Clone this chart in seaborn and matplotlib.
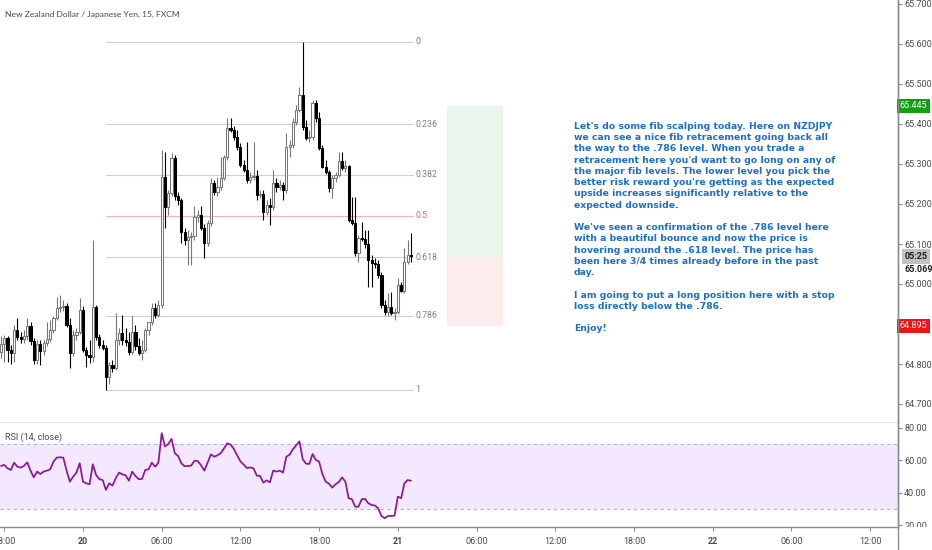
import numpy as np
import pandas as pd
import matplotlib
matplotlib.use("Agg")
import matplotlib.pyplot as plt
from matplotlib.lines import Line2D
from matplotlib.transforms import Bbox, TransformedBbox
import seaborn as sns

# NZDJPY 15 min candles (FXCM), first bar 19th 17:45, last bar 21st 01:00
start_time = "2019-03-19 17:45"

opens = [64.830, 64.850, 64.865, 64.835, 64.828, 64.885, 64.868, 64.863, 64.870, 64.895,
         64.858, 64.810, 64.850, 64.833, 64.853, 64.863, 64.885, 64.915, 64.940, 64.943,
         64.945, 64.898, 64.828, 64.873, 64.880, 64.935, 64.835, 64.823, 64.818, 64.943,
         64.868, 64.848, 64.840, 64.768, 64.798, 64.790, 64.860, 64.878, 64.860, 64.855,
         64.830, 64.880, 64.845, 64.828, 64.835, 64.885, 64.905, 64.940, 64.923, 64.948,
         65.268, 65.193, 65.228, 65.315, 65.220, 65.210, 65.130, 65.110, 65.118, 65.120,
         65.168, 65.173, 65.140, 65.103, 65.153, 65.253, 65.230, 65.243, 65.265, 65.318,
         65.390, 65.385, 65.368, 65.343, 65.298, 65.285, 65.260, 65.268, 65.270, 65.223,
         65.225, 65.180, 65.198, 65.193, 65.253, 65.243, 65.248, 65.235, 65.343, 65.348,
         65.405, 65.435, 65.473, 65.393, 65.365, 65.368, 65.453, 65.415, 65.340, 65.293,
         65.280, 65.240, 65.265, 65.273, 65.308, 65.290, 65.295, 65.160, 65.153, 65.078,
         65.115, 65.113, 65.100, 65.060, 65.053, 65.050, 65.023, 64.948, 64.930, 64.943,
         64.928, 64.930, 64.998, 64.983, 65.055, 65.073]
highs = [64.870, 64.873, 64.870, 64.848, 64.898, 64.915, 64.880, 64.885, 64.915, 64.905,
         64.865, 64.860, 64.860, 64.860, 64.905, 64.910, 64.920, 64.968, 64.973, 64.960,
         64.953, 64.915, 64.885, 64.890, 64.965, 64.945, 64.843, 64.860, 65.110, 64.948,
         64.875, 64.860, 64.848, 64.805, 64.810, 64.928, 64.890, 64.923, 64.890, 64.880,
         64.920, 64.898, 64.865, 64.860, 64.890, 64.905, 64.953, 64.953, 64.960, 65.335,
         65.330, 65.235, 65.328, 65.323, 65.230, 65.215, 65.140, 65.135, 65.130, 65.195,
         65.185, 65.195, 65.150, 65.160, 65.265, 65.260, 65.268, 65.318, 65.323, 65.415,
         65.415, 65.395, 65.385, 65.353, 65.310, 65.355, 65.280, 65.355, 65.285, 65.235,
         65.235, 65.210, 65.215, 65.285, 65.265, 65.260, 65.255, 65.378, 65.360, 65.415,
         65.448, 65.493, 65.605, 65.410, 65.385, 65.460, 65.460, 65.430, 65.348, 65.310,
         65.285, 65.273, 65.280, 65.330, 65.330, 65.310, 65.298, 65.218, 65.218, 65.123,
         65.155, 65.135, 65.135, 65.073, 65.065, 65.060, 65.030, 64.960, 64.978, 64.980,
         64.940, 65.015, 65.005, 65.090, 65.110, 65.128]
lows = [64.815, 64.805, 64.805, 64.800, 64.805, 64.860, 64.853, 64.853, 64.860, 64.848,
        64.800, 64.800, 64.798, 64.823, 64.845, 64.855, 64.878, 64.910, 64.930, 64.933,
        64.893, 64.790, 64.820, 64.860, 64.875, 64.830, 64.793, 64.803, 64.805, 64.860,
        64.840, 64.835, 64.735, 64.750, 64.780, 64.785, 64.848, 64.848, 64.845, 64.823,
        64.825, 64.835, 64.823, 64.810, 64.830, 64.873, 64.898, 64.915, 64.918, 64.940,
        65.140, 65.173, 65.220, 65.210, 65.198, 65.103, 65.098, 65.048, 65.048, 65.110,
        65.155, 65.135, 65.065, 65.095, 65.145, 65.223, 65.220, 65.235, 65.260, 65.310,
        65.380, 65.360, 65.335, 65.293, 65.280, 65.253, 65.253, 65.260, 65.210, 65.215,
        65.160, 65.173, 65.148, 65.185, 65.230, 65.235, 65.210, 65.228, 65.318, 65.340,
        65.398, 65.430, 65.385, 65.360, 65.355, 65.360, 65.405, 65.335, 65.290, 65.275,
        65.230, 65.215, 65.255, 65.268, 65.285, 65.280, 65.155, 65.148, 65.070, 65.055,
        65.108, 65.090, 64.993, 64.993, 65.040, 65.015, 64.940, 64.923, 64.920, 64.923,
        64.910, 64.925, 64.980, 64.978, 65.050, 65.055]
closes = [64.850, 64.865, 64.835, 64.828, 64.885, 64.868, 64.863, 64.870, 64.895, 64.858,
          64.810, 64.850, 64.833, 64.853, 64.863, 64.885, 64.915, 64.940, 64.943, 64.945,
          64.898, 64.828, 64.873, 64.880, 64.935, 64.835, 64.823, 64.818, 64.943, 64.868,
          64.848, 64.840, 64.768, 64.798, 64.790, 64.860, 64.878, 64.860, 64.855, 64.830,
          64.880, 64.845, 64.828, 64.835, 64.885, 64.905, 64.940, 64.923, 64.948, 65.268,
          65.193, 65.228, 65.315, 65.220, 65.210, 65.130, 65.110, 65.118, 65.120, 65.168,
          65.173, 65.140, 65.103, 65.153, 65.253, 65.230, 65.243, 65.265, 65.318, 65.390,
          65.385, 65.368, 65.343, 65.298, 65.285, 65.260, 65.268, 65.270, 65.223, 65.225,
          65.180, 65.198, 65.193, 65.253, 65.243, 65.248, 65.235, 65.343, 65.348, 65.405,
          65.435, 65.473, 65.393, 65.365, 65.368, 65.453, 65.415, 65.340, 65.293, 65.280,
          65.240, 65.265, 65.273, 65.308, 65.290, 65.295, 65.160, 65.153, 65.078, 65.115,
          65.113, 65.100, 65.060, 65.053, 65.050, 65.023, 64.948, 64.930, 64.943, 64.928,
          64.930, 64.998, 64.983, 65.055, 65.073, 65.069]

# RSI(14, close) as shown in the lower pane
rsi = [56.5, 57.1, 55.0, 54.0, 58.5, 56.0, 55.4, 56.5, 58.7, 53.6,
       49.5, 53.0, 51.5, 53.0, 53.6, 54.4, 59.1, 61.6, 61.8, 61.6,
       53.6, 46.8, 49.9, 52.4, 58.1, 46.8, 45.8, 45.2, 57.5, 50.9,
       48.3, 47.8, 41.7, 45.8, 44.4, 48.9, 52.4, 51.3, 50.7, 47.4,
       53.0, 50.3, 48.3, 48.5, 54.0, 54.4, 58.5, 56.0, 58.5, 76.6,
       68.4, 70.0, 73.1, 64.3, 62.6, 58.1, 56.3, 56.5, 56.7, 59.7,
       59.5, 56.9, 53.6, 58.5, 63.6, 62.2, 63.0, 64.3, 67.3, 70.4,
       69.6, 66.9, 63.0, 59.3, 57.3, 55.2, 55.6, 55.0, 50.5, 50.3,
       46.2, 47.6, 46.4, 53.6, 53.0, 53.6, 52.4, 62.2, 63.4, 66.7,
       69.2, 71.6, 60.6, 57.9, 57.7, 63.8, 60.2, 59.1, 51.5, 46.8,
       45.6, 43.1, 45.2, 46.6, 49.5, 46.8, 36.6, 36.0, 31.4, 31.4,
       36.0, 36.2, 33.5, 32.5, 32.1, 30.4, 25.7, 24.3, 25.7, 25.7,
       25.9, 37.6, 36.6, 45.8, 47.8, 47.4]

# fib retracement drawing
fib_ratios = [0, 0.236, 0.382, 0.5, 0.618, 0.786, 1]
fib_end_time = "2019-03-21 01:10"

# long position drawing
pos_start_time = "2019-03-21 03:45"
pos_end_time = "2019-03-21 08:00"
pos_entry = 65.068
pos_target = 65.445
pos_stop = 64.895
countdown = "05:25"

# 64.900 is hidden behind the stop label on the price scale
price_ticks = [64.7, 64.8, 65.0, 65.1, 65.2, 65.3, 65.4, 65.5, 65.6, 65.7]
rsi_ticks = [20, 40, 60, 80]
time_ticks = pd.date_range("2019-03-19 18:00", "2019-03-22 12:00", freq="6h")

note = ("Let's do some fib scalping today. Here on NZDJPY\n"
        "we can see a nice fib retracement going back all\n"
        "the way to the .786 level. When you trade a\n"
        "retracement here you'd want to go long on any of\n"
        "the major fib levels. The lower level you pick the\n"
        "better risk reward you're getting as the expected\n"
        "upside increases significantly relative to the\n"
        "expected downside.\n"
        "\n"
        "We've seen a confirmation of the .786 level here\n"
        "with a beautiful bounce and now the price is\n"
        "hovering around the .618 level. The price has\n"
        "been here 3/4 times already before in the past\n"
        "day.\n"
        "\n"
        "I am going to put a long position here with a stop\n"
        "loss directly below the .786.\n"
        "\n"
        "Enjoy!")

sns.set_theme(style="white")
plt.rcParams["font.family"] = ["Roboto", "DejaVu Sans"]

AXIS_C = "#8c8c8c"
TEXT_C = "#4a4a4a"

W, H = 932, 550
fig = plt.figure(figsize=(W / 100, H / 100), dpi=100)


def fx(x):
    return x / W


def fy(y):
    return 1 - y / H


t0 = pd.Timestamp(start_time)


def to_bar(t):
    return (pd.Timestamp(t) - t0) / pd.Timedelta("15min")


ax = fig.add_axes([0, fy(423), fx(898), fy(0) - fy(423)])
ax_rsi = fig.add_axes([0, fy(527), fx(898), fy(423) - fy(527)], sharex=ax)

o = np.array(opens)
h = np.array(highs)
l = np.array(lows)
c = np.array(closes)
bars = np.arange(len(c))
up = c >= o
edge = np.where(up, "#777777", "#000000")
face = np.where(up, "#ffffff", "#000000")

# candles
ax.vlines(bars, l, h, colors=edge, linewidth=0.8, zorder=2)
body = np.maximum(np.abs(c - o), 0.0015)
ax.bar(bars, body, bottom=np.minimum(o, c), width=0.66, color=face,
       edgecolor=edge, linewidth=0.75, zorder=3)

# fib retracement
fib_hi = h.max()
fib_lo = l.min()
fib_x0 = bars[l.argmin()]
fib_x1 = to_bar(fib_end_time)
for r in fib_ratios:
    lvl = fib_hi - r * (fib_hi - fib_lo)
    col = "#f5b3b3" if r == 0.5 else "#cfcfcf"
    tcol = "#e8625c" if r == 0.5 else "#808080"
    ax.plot([fib_x0, fib_x1], [lvl, lvl], color=col, linewidth=0.8, zorder=1)
    ax.text(fib_x1 + 0.6, lvl, f"{r:g}", color=tcol, fontsize=6.3,
            ha="left", va="center")

# long position box
px0 = to_bar(pos_start_time)
px1 = to_bar(pos_end_time)
ax.fill_between([px0, px1], pos_entry, pos_target, color="#eaf6eb", linewidth=0, zorder=0)
ax.fill_between([px0, px1], pos_stop, pos_entry, color="#fdecec", linewidth=0, zorder=0)

ax.set_xlim(-0.3, 273.5)
ax.set_ylim(64.6525, 65.71)

# price scale on the right
ax.yaxis.tick_right()
ax.set_yticks(price_ticks)
ax.set_yticklabels([f"{p:.3f}" for p in price_ticks])
for a in (ax, ax_rsi):
    a.tick_params(axis="y", right=True, left=False, length=3, width=0.8,
                  color=AXIS_C, pad=1.5, labelsize=6.5, labelcolor=TEXT_C)
    a.spines["top"].set_visible(False)
    a.spines["left"].set_visible(False)
    a.spines["right"].set_color(AXIS_C)
    a.spines["bottom"].set_color(AXIS_C)
    a.spines["right"].set_linewidth(1)
    a.spines["bottom"].set_linewidth(1)
ax.tick_params(axis="x", bottom=False, labelbottom=False)

ytr = ax.get_yaxis_transform()
ax.annotate(f"{pos_target:.3f}", xy=(1, pos_target), xycoords=ytr, xytext=(1.2, 0),
            textcoords="offset points", ha="left", va="center", color="white",
            fontsize=6.5, annotation_clip=False,
            bbox=dict(boxstyle="square,pad=0.3", fc="#12a012", ec="none"))
ax.annotate(f"{pos_stop:.3f}", xy=(1, pos_stop), xycoords=ytr, xytext=(1.2, 0),
            textcoords="offset points", ha="left", va="center", color="white",
            fontsize=6.5, annotation_clip=False,
            bbox=dict(boxstyle="square,pad=0.3", fc="#f01414", ec="none"))
ax.annotate(countdown, xy=(1, c[-1]), xycoords=ytr, xytext=(4.5, 0),
            textcoords="offset points", ha="left", va="center", color="#1e1e1e",
            fontsize=6.5, fontweight="bold", annotation_clip=False,
            bbox=dict(boxstyle="square,pad=0.3", fc="#c2c2c2", ec="none"))
ax.annotate(f"{c[-1]:.3f}", xy=(1, c[-1]), xycoords=ytr, xytext=(4.5, -9.5),
            textcoords="offset points", ha="left", va="center", color="#1e1e1e",
            fontsize=6.5, fontweight="bold", annotation_clip=False)

# RSI pane
ax_rsi.axhspan(30, 70, color="#f3e8fd", linewidth=0, zorder=0)
for lvl in (30, 70):
    ax_rsi.axhline(lvl, color="#b9b2c2", linewidth=0.8, dashes=(3, 3), zorder=1)
sns.lineplot(x=bars, y=rsi, ax=ax_rsi, color="#8e1599", linewidth=1.25, zorder=3)
ax_rsi.set_xlabel("")
ax_rsi.set_ylabel("")
ax_rsi.set_ylim(18.9, 82.9)
ax_rsi.yaxis.tick_right()
ax_rsi.set_yticks(rsi_ticks)
ax_rsi.set_yticklabels([f"{v:.2f}" for v in rsi_ticks])
ax_rsi.text(5 / 898, 0.865, "RSI (14, close)", transform=ax_rsi.transAxes,
            fontsize=6.5, color=TEXT_C, ha="left", va="center")

clip = TransformedBbox(Bbox([[fx(898), fy(527)], [1, fy(423)]]), fig.transFigure)
for lbl in ax_rsi.get_yticklabels():
    lbl.set_clip_box(clip)
    lbl.set_clip_on(True)

# time scale
tick_pos = [to_bar(t) for t in time_ticks]
tick_lab = [str(t.day) if t.hour == 0 else t.strftime("%H:%M") for t in time_ticks]
ax_rsi.set_xticks(tick_pos)
ax_rsi.set_xticklabels(tick_lab)
ax_rsi.tick_params(axis="x", bottom=True, length=3, width=0.8, color=AXIS_C,
                   pad=4, labelsize=6.5, labelcolor=TEXT_C)
for lbl, t in zip(ax_rsi.get_xticklabels(), time_ticks):
    if t.hour == 0:
        lbl.set_fontweight("bold")
ax_rsi.set_xlim(-0.3, 273.5)

fig.add_artist(Line2D([fx(898), fx(898)], [0, 1], color=AXIS_C, linewidth=1))

fig.text(fx(5), fy(14), "New Zealand Dollar / Japanese Yen, 15, FXCM",
         fontsize=6.1, color=TEXT_C, ha="left", va="center",
         family=["Lato", "DejaVu Sans"])
fig.text(fx(574), fy(122), note, fontsize=6.7, fontweight="bold", color="#1f6fc6",
         family="DejaVu Sans", ha="left", va="top", linespacing=1.32)

fig.savefig("out.png", dpi=100)
